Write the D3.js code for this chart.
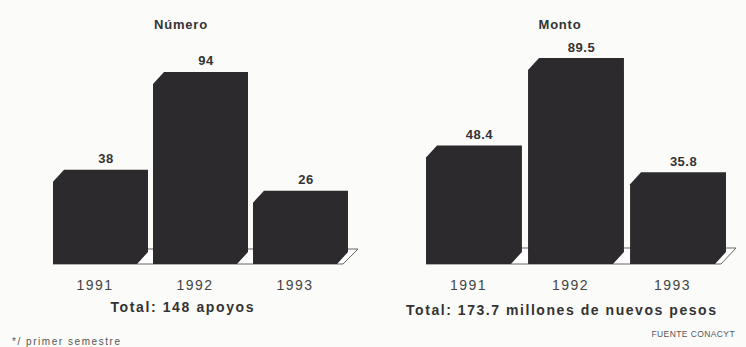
<!DOCTYPE html>
<html>
<head>
<meta charset="utf-8">
<script src="https://cdn.jsdelivr.net/npm/d3@7/dist/d3.min.js"></script>
<style>
  html, body { margin: 0; padding: 0; background: #fbfbf9; }
  svg { display: block; }
  text { font-family: "Liberation Sans", Arial, sans-serif; fill: #333; }
</style>
</head>
<body>
<svg id="chart" width="746" height="347"></svg>
<script>
// ---- data ----
const years = ["1991", "1992", "1993"];
const numeroValues = [38, 94, 26];
const numeroLabels = ["38", "94", "26"];
const montoValues = [48.4, 89.5, 35.8];
const montoLabels = ["48.4", "89.5", "35.8"];
const titles = ["Número", "Monto"];
const totals = ["Total: 148 apoyos", "Total: 173.7 millones de nuevos pesos"];
const footnote = "*/ primer semestre";
const source = "FUENTE CONACYT";

const svg = d3.select("#chart");
const baseY = 264;
const barColor = "#2d2a2d";

function panel(cfg) {
  const g = svg.append("g");
  const x = d3.scaleBand().domain(years).range(cfg.xRange).paddingInner(cfg.pad).paddingOuter(0);
  const y = d3.scaleLinear().domain(cfg.domain).range([baseY, cfg.topY]);
  const dx = cfg.dx, dy = cfg.dy;
  const bw = x.bandwidth();

  // floor (white parallelogram under the bars)
  const fx0 = cfg.xRange[0], fx1 = cfg.floorRight;
  g.append("path")
    .attr("d", `M${fx0},${baseY} L${fx1},${baseY} L${fx1 + cfg.fdx},${baseY - cfg.fdy} L${fx0 + cfg.fdx},${baseY - cfg.fdy} Z`)
    .attr("fill", "#ffffff").attr("stroke", "#666").attr("stroke-width", 1);

  const data = years.map((yr, i) => ({ yr, v: cfg.values[i], label: cfg.labels[i] }));

  // bars (oblique 3D silhouette, all faces dark)
  g.selectAll("path.bar").data(data).enter().append("path")
    .attr("class", "bar")
    .attr("fill", barColor)
    .attr("d", d => {
      const x0 = x(d.yr), x1 = x0 + bw, yt = y(d.v);
      return `M${x0},${baseY} L${x0},${yt + dy} L${x0 + dx},${yt} L${x1},${yt} L${x1},${baseY - dy} L${x1 - dx},${baseY} Z`;
    });

  // value labels
  g.selectAll("text.val").data(data).enter().append("text")
    .attr("class", "val")
    .attr("x", d => x(d.yr) + (dx + bw) / 2)
    .attr("y", d => y(d.v) - cfg.labOff)
    .attr("text-anchor", "middle")
    .attr("font-size", 13).attr("font-weight", "bold")
    .attr("letter-spacing", 0.5)
    .text(d => d.label);

  // year labels
  g.selectAll("text.yr").data(data).enter().append("text")
    .attr("class", "yr")
    .attr("x", d => x(d.yr) + (bw - dx) / 2)
    .attr("y", 290)
    .attr("text-anchor", "middle")
    .attr("font-size", 14)
    .attr("letter-spacing", 1.5)
    .style("fill", "#444")
    .text(d => d.yr);

  // title
  g.append("text")
    .attr("x", cfg.titleX).attr("y", 29)
    .attr("text-anchor", "middle")
    .attr("font-size", 13).attr("font-weight", "bold")
    .attr("letter-spacing", 0.8)
    .text(cfg.title);

  // total
  g.append("text")
    .attr("x", cfg.totalX).attr("y", cfg.totalY)
    .attr("text-anchor", "middle")
    .attr("font-size", 14).attr("font-weight", "bold")
    .attr("textLength", cfg.totalLen).attr("lengthAdjust", "spacing")
    .text(cfg.total);
}

panel({
  xRange: [53, 348], pad: 0.05, domain: [-16, d3.max(numeroValues)], topY: 72,
  dx: 11, dy: 12, floorRight: 343, fdx: 15, fdy: 15,
  values: numeroValues, labels: numeroLabels, labOff: 7,
  title: titles[0], titleX: 181,
  total: totals[0], totalX: 182, totalY: 312, totalLen: 143
});

panel({
  xRange: [426, 726], pad: 0.06, domain: [-7.3, d3.max(montoValues)], topY: 58,
  dx: 11, dy: 12, floorRight: 721, fdx: 15, fdy: 16,
  values: montoValues, labels: montoLabels, labOff: 6,
  title: titles[1], titleX: 560,
  total: totals[1], totalX: 561, totalY: 315, totalLen: 310
});

// footnote and source
svg.append("text")
  .attr("x", 12).attr("y", 345)
  .attr("font-size", 10)
  .attr("textLength", 108).attr("lengthAdjust", "spacing")
  .style("fill", "#555")
  .text(footnote);

svg.append("text")
  .attr("x", 735).attr("y", 337)
  .attr("text-anchor", "end")
  .attr("font-size", 8.5)
  .attr("letter-spacing", 0.4)
  .style("fill", "#555")
  .text(source);
</script>
</body>
</html>
